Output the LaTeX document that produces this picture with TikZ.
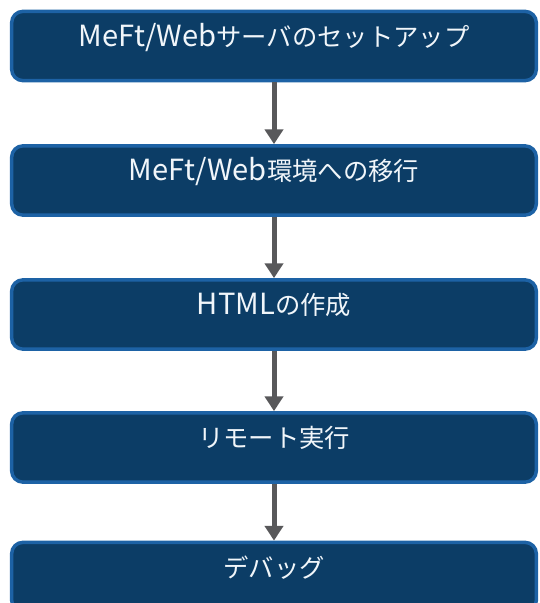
\documentclass[tikz,border=0pt]{standalone}
\usepackage{fontspec}
\setmainfont{Noto Sans CJK JP}
\newfontfamily\latfont[Scale=1.15]{Noto Sans CJK JP}
\usetikzlibrary{arrows.meta}
\definecolor{boxfill}{HTML}{0C3D66}
\definecolor{boxline}{HTML}{1D62A5}
\definecolor{arrowgray}{HTML}{58585A}
\begin{document}
\begin{tikzpicture}[x=0.75pt, y=-0.75pt,
  every node/.style={font=\fontsize{19}{22}\selectfont, text=white!94!boxline},
  stepbox/.style={draw=boxline, fill=boxfill, line width=2.6pt, rounded corners=8.5pt,
    minimum width=393.5pt, inner sep=0pt, text height=26pt, text depth=26pt},
  flow/.style={-{Triangle[width=13.5pt,length=11pt]}, line width=3.75pt, arrowgray}]
\useasboundingbox (0,0) rectangle (539,603);
\clip (0,0) rectangle (539,603);
\node[stepbox] (setup)  at (274,46)    {{\latfont MeFt/Web}サーバのセットアップ};
\node[stepbox] (move)   at (274,180.5) {{\latfont MeFt/Web}環境への移行};
\node[stepbox] (html)   at (274,314.5) {{\latfont HTML}の作成};
\node[stepbox] (remote) at (274,447.5) {リモート実行};
\node[stepbox] (debug)  at (274,577)   {デバッグ};
\draw[flow] (setup) -- (move);
\draw[flow] (move) -- (html);
\draw[flow] (html) -- (remote);
\draw[flow] (remote) -- (debug);
\end{tikzpicture}
\end{document}
